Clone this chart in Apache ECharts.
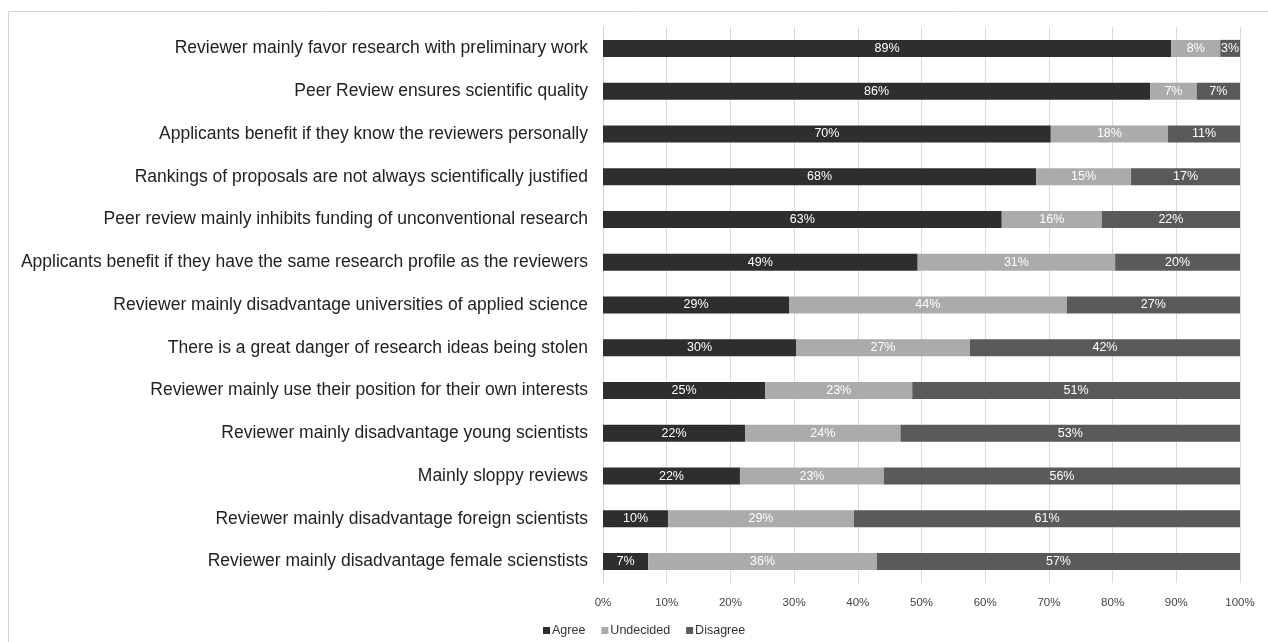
<!DOCTYPE html>
<html>
<head>
<meta charset="utf-8">
<script src="https://cdn.jsdelivr.net/npm/echarts@6/dist/echarts.min.js"></script>
<style>html,body{margin:0;padding:0;background:#fff;}#chart{width:1268px;height:642px;}</style>
</head>
<body>
<div id="chart"></div>
<script>
const categories = [
  "Reviewer mainly favor research with preliminary work",
  "Peer Review ensures scientific quality",
  "Applicants benefit if they know the reviewers personally",
  "Rankings of proposals are not always scientifically justified",
  "Peer review mainly inhibits funding of unconventional research",
  "Applicants benefit if they have the same research profile as the reviewers",
  "Reviewer mainly disadvantage universities of applied science",
  "There is a great danger of research ideas being stolen",
  "Reviewer mainly use their position for their own interests",
  "Reviewer mainly disadvantage young scientists",
  "Mainly sloppy reviews",
  "Reviewer mainly disadvantage foreign scientists",
  "Reviewer mainly disadvantage female scienstists"
];
const agree     = [89.2, 85.9, 70.3, 68.0, 62.6, 49.4, 29.2, 30.3, 25.45, 22.3, 21.5, 10.2, 7.1];
const undecided = [7.7, 7.3, 18.4, 14.9, 15.7, 31.0, 43.6, 27.3, 23.1, 24.4, 22.6, 29.2, 35.9];
const disagree  = [3.1, 6.8, 11.3, 17.1, 21.7, 19.6, 27.2, 42.4, 51.45, 53.3, 55.9, 60.6, 57.0];
const xTicks = [0, 10, 20, 30, 40, 50, 60, 70, 80, 90, 100];

const chart = echarts.init(document.getElementById('chart'));
const fontFam = '"Liberation Sans", Arial, sans-serif';
function mk(name, data, color) {
  return {
    name: name, type: 'bar', stack: 'total', data: data, barWidth: 17,
    itemStyle: { color: color },
    label: { show: true, position: 'inside', color: '#ffffff', fontSize: 12.5, fontFamily: fontFam,
      formatter: p => Math.round(p.value) + '%' }
  };
}
chart.setOption({
  animation: false,
  grid: { left: 603, right: 28, top: 27, bottom: 59, containLabel: false },
  legend: {
    data: ['Agree', 'Undecided', 'Disagree'], top: 619, left: 538,
    icon: 'rect', itemWidth: 7, itemHeight: 7, itemGap: 16,
    textStyle: { fontSize: 12.5, color: '#333', fontFamily: fontFam, padding: [0, 0, 0, -3] }
  },
  xAxis: {
    type: 'value', min: 0, max: 100, interval: 10,
    axisLabel: { formatter: v => xTicks.includes(v) ? v + '%' : '', fontSize: 11.5, color: '#444', fontFamily: fontFam, margin: 14 },
    splitLine: { show: true, lineStyle: { color: '#d9d9d9', width: 1 } },
    axisLine: { show: false }, axisTick: { show: false }
  },
  yAxis: {
    type: 'category', data: categories, inverse: true,
    axisLine: { show: true, lineStyle: { color: '#d0d0d0' } },
    axisTick: { show: false },
    axisLabel: { fontSize: 17.5, color: '#222', fontFamily: fontFam, margin: 15 }
  },
  graphic: [
    { type: 'line', shape: { x1: 8.5, y1: 11.5, x2: 1268, y2: 11.5 }, style: { stroke: '#d4d4d4', lineWidth: 1 } },
    { type: 'line', shape: { x1: 8.5, y1: 11.5, x2: 8.5, y2: 642 }, style: { stroke: '#d4d4d4', lineWidth: 1 } }
  ],
  series: [
    mk('Agree', agree, '#2e2e2e'),
    mk('Undecided', undecided, '#ababab'),
    mk('Disagree', disagree, '#5a5a5a')
  ]
});
</script>
</body>
</html>
